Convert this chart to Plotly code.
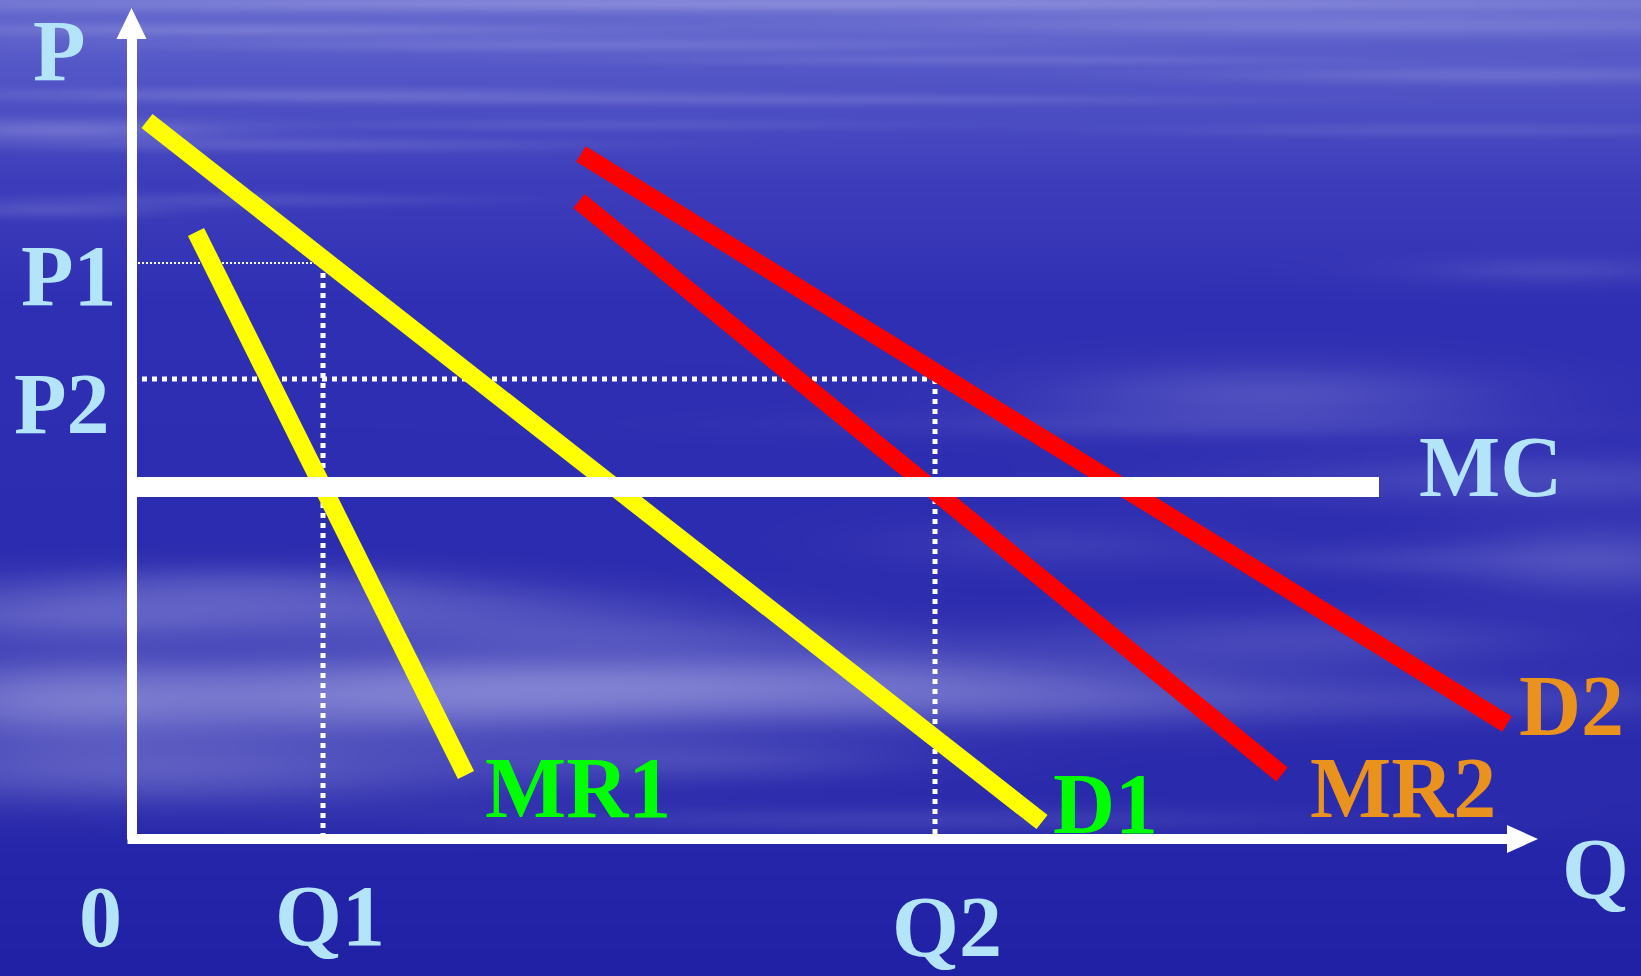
import base64
import struct
import zlib

import numpy as np
import plotly.graph_objects as go

# ---- economic data (quantity q, price p) ----
Q1, Q2 = 19.1, 80.3          # output levels
P1, P2 = 57.6, 46.0          # price levels
MC_LEVEL = 35.2              # constant marginal cost

d1_q = [1.5, 91.0]
d1_p = [71.8, 1.7]
mr1_q = [6.4, 33.4]
mr1_p = [60.7, 6.4]
d2_q = [44.9, 137.5]
d2_p = [68.5, 11.5]
mr2_q = [44.7, 115.0]
mr2_p = [63.8, 6.45]
mc_q = [0.4, 124.7]

# ---- canvas geometry ----
W, H = 1641, 976
X_RANGE = [-13.2, 150.9]
Y_RANGE = [-13.7, 83.9]

LIGHT_BLUE = "#B4E4FA"
GREEN = "#00FF00"
ORANGE = "#EA921E"
FONT = "Liberation Serif"


def png_data_uri(rgb):
    h, w, _ = rgb.shape
    raw = b"".join(b"\x00" + rgb[y].tobytes() for y in range(h))

    def chunk(tag, data):
        body = tag + data
        return struct.pack(">I", len(data)) + body + struct.pack(">I", zlib.crc32(body) & 0xFFFFFFFF)

    png = (b"\x89PNG\r\n\x1a\n"
           + chunk(b"IHDR", struct.pack(">IIBBBBB", w, h, 8, 2, 0, 0, 0))
           + chunk(b"IDAT", zlib.compress(raw, 9))
           + chunk(b"IEND", b""))
    return "data:image/png;base64," + base64.b64encode(png).decode()


def sky_background(scale=2):
    """Deep blue backdrop with soft horizontal cloud streaks."""
    w, h = W // scale, H // scale
    ys = (np.arange(h) + 0.5) * scale
    xs = (np.arange(w) + 0.5) * scale
    stops_y = [0, 60, 180, 300, 550, 800, 850, 976]
    stops_c = [(100, 104, 205), (86, 89, 200), (62, 62, 188), (48, 48, 180),
               (44, 44, 176), (42, 42, 172), (38, 38, 170), (33, 33, 165)]
    base = np.stack([np.interp(ys, stops_y, [c[i] for c in stops_c]) for i in range(3)], axis=-1)
    img = np.repeat(base[:, None, :], w, axis=1)

    clouds = [
        (820, 4, 700, 6, .45), (1350, 25, 350, 8, .3), (250, 30, 250, 5, .3),
        (600, 45, 300, 5, .25), (1000, 60, 250, 4, .2), (1500, 75, 200, 6, .25),
        (300, 95, 250, 5, .25), (800, 100, 300, 4, .2), (60, 130, 120, 8, .35),
        (300, 145, 200, 5, .2), (600, 125, 200, 4, .15), (1450, 130, 200, 5, .15),
        (250, 200, 150, 5, .15), (50, 210, 80, 6, .2), (1550, 270, 100, 10, .15),
        (1270, 395, 160, 22, .25), (1200, 425, 250, 10, .12), (1540, 480, 200, 18, .2),
        (1400, 560, 120, 12, .12), (1050, 545, 120, 18, .12),
        (80, 615, 180, 22, .35), (250, 585, 150, 15, .2), (420, 610, 200, 18, .25),
        (600, 635, 180, 14, .2), (50, 700, 120, 28, .4), (300, 700, 250, 30, .4),
        (560, 690, 250, 25, .45), (820, 680, 250, 25, .3), (1040, 700, 200, 20, .25),
        (150, 770, 250, 25, .35), (700, 760, 150, 15, .2), (1300, 640, 180, 20, .2),
        (1480, 700, 200, 15, .15), (1600, 560, 100, 25, .25), (900, 820, 300, 10, .15),
    ]
    keep = np.ones((h, w))
    X, Y = np.meshgrid(xs, ys)
    for cx, cy, sx, sy, a in clouds:
        g = np.exp(-(((X - cx) / sx) ** 2 + ((Y - cy) / sy) ** 2) / 2)
        keep *= 1 - a * g
    t = (1 - keep)[..., None]
    cloud_col = np.array([178, 178, 232], dtype=float)
    img = img * (1 - t) + cloud_col * t
    return np.clip(img, 0, 255).astype(np.uint8)


fig = go.Figure()


def seg(q, p, color, width, dash="solid"):
    fig.add_trace(go.Scatter(x=q, y=p, mode="lines",
                             line=dict(color=color, width=width, dash=dash),
                             hoverinfo="skip"))


# guide lines to the equilibrium points
seg([0.6, Q1], [P1, P1], "white", 2, "2px,2px")
seg([Q1, Q1], [P1, 0], "white", 5, "5px,5px")
seg([1.0, Q2], [P2, P2], "white", 5, "5px,5px")
seg([Q2, Q2], [P2, 0], "white", 5, "5px,5px")

# demand and marginal revenue curves
seg(d1_q, d1_p, "#FFFF00", 18)
seg(mr1_q, mr1_p, "#FFFF00", 18)
seg(d2_q, d2_p, "#FF0000", 18)
seg(mr2_q, mr2_p, "#FF0000", 18)

# marginal cost
seg(mc_q, [MC_LEVEL, MC_LEVEL], "white", 20)

# axes with arrowheads
seg([0, 0], [-0.05, 80.0], "white", 10)
seg([-0.45, 137.5], [0, 0], "white", 10)
fig.add_trace(go.Scatter(x=[-1.55, 1.45, -0.05, -1.55], y=[80.0, 80.0, 83.1, 80.0],
                         mode="lines", fill="toself", fillcolor="white",
                         line=dict(color="white", width=0), hoverinfo="skip"))
fig.add_trace(go.Scatter(x=[137.5, 137.5, 140.6, 137.5], y=[1.4, -1.4, 0, 1.4],
                         mode="lines", fill="toself", fillcolor="white",
                         line=dict(color="white", width=0), hoverinfo="skip"))

# text labels: (text, q, p, colour)
labels = [
    ("P", -7.3, 78.8, LIGHT_BLUE),
    ("P1", -6.3, P1 - 1.3, LIGHT_BLUE),
    ("P2", -7.0, P2 - 2.5, LIGHT_BLUE),
    ("0", -3.2, -7.8, LIGHT_BLUE),
    ("Q1", Q1 + 0.7, -7.7, LIGHT_BLUE),
    ("Q2", Q2 + 1.2, -8.8, LIGHT_BLUE),
    ("Q", 146.3, -3.0, LIGHT_BLUE),
    ("MC", 135.8, MC_LEVEL + 2.0, LIGHT_BLUE),
    ("MR1", 44.6, 5.1, GREEN),
    ("D1", 97.3, 3.5, GREEN),
    ("MR2", 127.1, 5.1, ORANGE),
    ("D2", 143.9, 13.3, ORANGE),
]
for text, q, p, col in labels:
    fig.add_annotation(x=q, y=p, xref="x", yref="y", text=f"<b>{text}</b>",
                       showarrow=False, xanchor="center", yanchor="middle",
                       font=dict(family=FONT, size=86, color=col))

fig.add_layout_image(dict(source=png_data_uri(sky_background()), xref="paper", yref="paper",
                          x=0, y=1, sizex=1, sizey=1, sizing="stretch",
                          xanchor="left", yanchor="top", layer="below"))

fig.update_layout(
    width=W, height=H, autosize=False,
    margin=dict(l=0, r=0, t=0, b=0, pad=0),
    paper_bgcolor="#2C2CB0", plot_bgcolor="rgba(0,0,0,0)",
    showlegend=False,
    xaxis=dict(range=X_RANGE, visible=False, fixedrange=True),
    yaxis=dict(range=Y_RANGE, visible=False, fixedrange=True),
)

fig.write_html("out.html", config={"displayModeBar": False})
